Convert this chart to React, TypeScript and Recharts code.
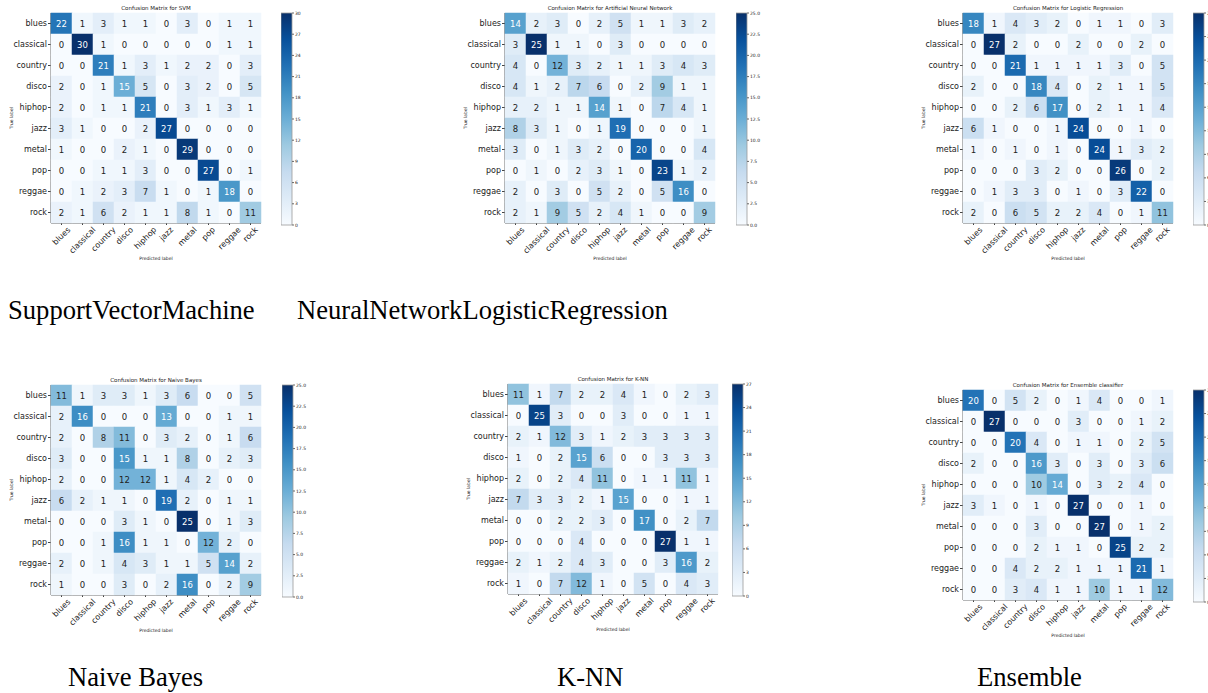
import React from 'react';
import { ScatterChart, Scatter, XAxis, YAxis, BarChart, Bar } from 'recharts';

const GENRES = ['blues', 'classical', 'country', 'disco', 'hiphop', 'jazz', 'metal', 'pop', 'reggae', 'rock'];

const SVM = [
  [22, 1, 3, 1, 1, 0, 3, 0, 1, 1],
  [0, 30, 1, 0, 0, 0, 0, 0, 1, 1],
  [0, 0, 21, 1, 3, 1, 2, 2, 0, 3],
  [2, 0, 1, 15, 5, 0, 3, 2, 0, 5],
  [2, 0, 1, 1, 21, 0, 3, 1, 3, 1],
  [3, 1, 0, 0, 2, 27, 0, 0, 0, 0],
  [1, 0, 0, 2, 1, 0, 29, 0, 0, 0],
  [0, 0, 1, 1, 3, 0, 0, 27, 0, 1],
  [0, 1, 2, 3, 7, 1, 0, 1, 18, 0],
  [2, 1, 6, 2, 1, 1, 8, 1, 0, 11],
];
const ANN = [
  [14, 2, 3, 0, 2, 5, 1, 1, 3, 2],
  [3, 25, 1, 1, 0, 3, 0, 0, 0, 0],
  [4, 0, 12, 3, 2, 1, 1, 3, 4, 3],
  [4, 1, 2, 7, 6, 0, 2, 9, 1, 1],
  [2, 2, 1, 1, 14, 1, 0, 7, 4, 1],
  [8, 3, 1, 0, 1, 19, 0, 0, 0, 1],
  [3, 0, 1, 3, 2, 0, 20, 0, 0, 4],
  [0, 1, 0, 2, 3, 1, 0, 23, 1, 2],
  [2, 0, 3, 0, 5, 2, 0, 5, 16, 0],
  [2, 1, 9, 5, 2, 4, 1, 0, 0, 9],
];
const LR = [
  [18, 1, 4, 3, 2, 0, 1, 1, 0, 3],
  [0, 27, 2, 0, 0, 2, 0, 0, 2, 0],
  [0, 0, 21, 1, 1, 1, 1, 3, 0, 5],
  [2, 0, 0, 18, 4, 0, 2, 1, 1, 5],
  [0, 0, 2, 6, 17, 0, 2, 1, 1, 4],
  [6, 1, 0, 0, 1, 24, 0, 0, 1, 0],
  [1, 0, 1, 0, 1, 0, 24, 1, 3, 2],
  [0, 0, 0, 3, 2, 0, 0, 26, 0, 2],
  [0, 1, 3, 3, 0, 1, 0, 3, 22, 0],
  [2, 0, 6, 5, 2, 2, 4, 0, 1, 11],
];
const NB = [
  [11, 1, 3, 3, 1, 3, 6, 0, 0, 5],
  [2, 16, 0, 0, 0, 13, 0, 0, 1, 1],
  [2, 0, 8, 11, 0, 3, 2, 0, 1, 6],
  [3, 0, 0, 15, 1, 1, 8, 0, 2, 3],
  [2, 0, 0, 12, 12, 1, 4, 2, 0, 0],
  [6, 2, 1, 1, 0, 19, 2, 0, 1, 1],
  [0, 0, 0, 3, 1, 0, 25, 0, 1, 3],
  [0, 0, 1, 16, 1, 1, 0, 12, 2, 0],
  [2, 0, 1, 4, 3, 1, 1, 5, 14, 2],
  [1, 0, 0, 3, 0, 2, 16, 0, 2, 9],
];
const KNN = [
  [11, 1, 7, 2, 2, 4, 1, 0, 2, 3],
  [0, 25, 3, 0, 0, 3, 0, 0, 1, 1],
  [2, 1, 12, 3, 1, 2, 3, 3, 3, 3],
  [1, 0, 2, 15, 6, 0, 0, 3, 3, 3],
  [2, 0, 2, 4, 11, 0, 1, 1, 11, 1],
  [7, 3, 3, 2, 1, 15, 0, 0, 1, 1],
  [0, 0, 2, 2, 3, 0, 17, 0, 2, 7],
  [0, 0, 0, 4, 0, 0, 0, 27, 1, 1],
  [2, 1, 2, 4, 3, 0, 0, 3, 16, 2],
  [1, 0, 7, 12, 1, 0, 5, 0, 4, 3],
];
const ENS = [
  [20, 0, 5, 2, 0, 1, 4, 0, 0, 1],
  [0, 27, 0, 0, 0, 3, 0, 0, 1, 2],
  [0, 0, 20, 4, 0, 1, 1, 0, 2, 5],
  [2, 0, 0, 16, 3, 0, 3, 0, 3, 6],
  [0, 0, 0, 10, 14, 0, 3, 2, 4, 0],
  [3, 1, 0, 1, 0, 27, 0, 0, 1, 0],
  [0, 0, 0, 3, 0, 0, 27, 0, 1, 2],
  [0, 0, 0, 2, 1, 1, 0, 25, 2, 2],
  [0, 0, 4, 2, 2, 1, 1, 1, 21, 1],
  [0, 0, 3, 4, 1, 1, 10, 1, 1, 12],
];

const TITLES = [
  'Confusion Matrix for SVM',
  'Confusion Matrix for Artificial Neural Network',
  'Confusion Matrix for Logistic Regression',
  'Confusion Matrix for Naive Bayes',
  'Confusion Matrix for K-NN',
  'Confusion Matrix for Ensemble classifier',
];
const CAPTIONS = ['SupportVectorMachine', 'NeuralNetworkLogisticRegression', 'Naive Bayes', 'K-NN', 'Ensemble'];
const VMAX = [30, 25, 27, 25, 27, 27];
const TICKS_3_30 = [0, 3, 6, 9, 12, 15, 18, 21, 24, 27, 30];
const TICKS_25 = [0, 2.5, 5, 7.5, 10, 12.5, 15, 17.5, 20, 22.5, 25];
const TICKS_3_27 = [0, 3, 6, 9, 12, 15, 18, 21, 24, 27];
const CB_TICKS = [TICKS_3_30, TICKS_25, TICKS_3_27, TICKS_25, TICKS_3_27, TICKS_3_27];
const MATRICES = [SVM, ANN, LR, NB, KNN, ENS];

// layout (styles only)
const LAYOUT = [
  { mx: 51, my: 13, cbx: 281 },
  { mx: 505, my: 13, cbx: 736 },
  { mx: 963, my: 13, cbx: 1193 },
  { mx: 51, my: 385, cbx: 282 },
  { mx: 508, my: 384, cbx: 732 },
  { mx: 963, my: 390, cbx: 1193 },
];
const CAPTION_POS = [
  { x: 8, y: 319 },
  { x: 297, y: 319 },
  { x: 68, y: 686 },
  { x: 557, y: 686 },
  { x: 977, y: 686 },
];
const PLOT = 210;
const CELL = PLOT / 10;
const YW = 62;
const TOP = 2;
const XH = 48;
const CB_W = 11;
const FONT = 'DejaVu Sans';

const BLUES = ['#f7fbff', '#deebf7', '#c6dbef', '#9ecae1', '#6baed6', '#4292c6', '#2171b5', '#08519c', '#08306b'];
const hex = (h: string) => [1, 3, 5].map((i) => parseInt(h.slice(i, i + 2), 16));
function blues(t: number) {
  const c = Math.max(0, Math.min(1, t)) * 8;
  const i = Math.min(7, Math.floor(c));
  const f = c - i;
  const a = hex(BLUES[i]);
  const b = hex(BLUES[i + 1]);
  const m = a.map((v, k) => Math.round(v + (b[k] - v) * f));
  return `rgb(${m[0]},${m[1]},${m[2]})`;
}

let ctx: CanvasRenderingContext2D | null = null;
function textWidth(s: string, font: string) {
  if (!ctx) ctx = document.createElement('canvas').getContext('2d');
  if (!ctx) return s.length * 5;
  ctx.font = font;
  return ctx.measureText(s).width;
}

const RotTick = (props: any) => {
  const { x, y, payload } = props;
  const label = GENRES[payload.value];
  const w = textWidth(label, `8px "${FONT}"`);
  const h = (w + 7) / Math.SQRT2;
  return (
    <text
      transform={`translate(${x},${y + h / 2}) rotate(-45)`}
      textAnchor="middle"
      dominantBaseline="central"
      fontSize={8}
      fontFamily={FONT}
      fill="#222"
    >
      {label}
    </text>
  );
};

const makeCell = (vmax: number) => (props: any) => {
  const { cx, cy, payload } = props;
  const v = payload.v;
  return (
    <g>
      <rect x={cx - CELL / 2 - 0.25} y={cy - CELL / 2 - 0.25} width={CELL + 0.5} height={CELL + 0.5} fill={blues(v / vmax)} />
      <text
        x={cx}
        y={cy}
        textAnchor="middle"
        dominantBaseline="central"
        fontSize={8.5}
        fontFamily={FONT}
        fill={v >= vmax / 2 ? '#ffffff' : '#222'}
      >
        {v}
      </text>
    </g>
  );
};

const IDX = [0, 1, 2, 3, 4, 5, 6, 7, 8, 9];

function Matrix({ k }: { k: number }) {
  const m = MATRICES[k];
  const vmax = VMAX[k];
  const L = LAYOUT[k];
  const data = m.flatMap((row, i) => row.map((v, j) => ({ x: j, y: i, v })));
  const W = YW + PLOT + 1;
  const H = TOP + PLOT + XH;
  return (
    <div style={{ position: 'absolute', left: L.mx - YW, top: L.my - TOP, width: W, height: H }}>
      <ScatterChart width={W} height={H} margin={{ top: TOP, right: 1, bottom: 0, left: 0 }}>
        <XAxis
          type="number"
          dataKey="x"
          domain={[-0.5, 9.5]}
          ticks={IDX}
          interval={0}
          height={XH}
          tickSize={2}
          tickMargin={1}
          axisLine={{ stroke: '#444' }}
          tickLine={{ stroke: '#444' }}
          tick={<RotTick />}
        />
        <YAxis
          type="number"
          dataKey="y"
          domain={[-0.5, 9.5]}
          reversed
          ticks={IDX}
          interval={0}
          width={YW}
          tickSize={3}
          tickMargin={1}
          axisLine={{ stroke: '#444' }}
          tickLine={{ stroke: '#444' }}
          tickFormatter={(i: number) => GENRES[i]}
          tick={{ fontSize: 8, fill: '#222', fontFamily: FONT }}
        />
        <XAxis
          xAxisId="top"
          orientation="top"
          type="number"
          domain={[-0.5, 9.5]}
          height={0}
          tick={false}
          tickLine={false}
          axisLine={{ stroke: '#444' }}
        />
        <YAxis
          yAxisId="right"
          orientation="right"
          type="number"
          domain={[-0.5, 9.5]}
          width={0}
          tick={false}
          tickLine={false}
          axisLine={{ stroke: '#444' }}
        />
        <Scatter data={data} shape={makeCell(vmax)} isAnimationActive={false} />
      </ScatterChart>
    </div>
  );
}

function ColorBar({ k }: { k: number }) {
  const vmax = VMAX[k];
  const ticks = CB_TICKS[k];
  const L = LAYOUT[k];
  const dec = ticks.some((t) => !Number.isInteger(t));
  const W = CB_W + 26;
  const H = PLOT + 2 + 6;
  return (
    <div style={{ position: 'absolute', left: L.cbx, top: L.my - 3, width: W, height: H }}>
      <BarChart
        width={W}
        height={H}
        data={[{ k: 'c', v: vmax }]}
        margin={{ top: 3, right: 0, bottom: 3, left: 0 }}
        barCategoryGap={0}
      >
        <XAxis dataKey="k" hide />
        <YAxis
          orientation="right"
          type="number"
          domain={[0, vmax]}
          ticks={ticks}
          interval={0}
          width={26}
          tickSize={2}
          tickMargin={1}
          axisLine={false}
          tickLine={{ stroke: '#666' }}
          tickFormatter={(t: number) => (dec ? t.toFixed(1) : String(t))}
          tick={{ fontSize: 4.5, fill: '#222', fontFamily: FONT }}
        />
        <Bar dataKey="v" fill="url(#bluesGrad)" stroke="#999" strokeWidth={0.8} isAnimationActive={false} />
      </BarChart>
    </div>
  );
}

export default function App() {
  return (
    <div
      style={{
        position: 'absolute',
        left: 0,
        top: 0,
        width: 1208,
        height: 693,
        overflow: 'hidden',
        background: '#fff',
      }}
    >
      <svg width={0} height={0} style={{ position: 'absolute' }}>
        <defs>
          <linearGradient id="bluesGrad" x1="0" y1="0" x2="0" y2="1">
            {BLUES.map((c, i) => (
              <stop key={i} offset={`${(i / 8) * 100}%`} stopColor={BLUES[8 - i]} />
            ))}
          </linearGradient>
        </defs>
      </svg>
      {LAYOUT.map((_, k) => (
        <React.Fragment key={k}>
          <Matrix k={k} />
          <ColorBar k={k} />
        </React.Fragment>
      ))}
      <svg width={1208} height={693} style={{ position: 'absolute', left: 0, top: 0, pointerEvents: 'none' }}>
        {LAYOUT.map((L, k) => (
          <g key={k} fontFamily={FONT} fill="#222">
            <text x={L.mx + PLOT / 2} y={L.my - 3} textAnchor="middle" fontSize={5.5}>
              {TITLES[k]}
            </text>
            <text
              transform={`translate(${L.mx - 40},${L.my + PLOT / 2}) rotate(-90)`}
              textAnchor="middle"
              dominantBaseline="central"
              fontSize={4.5}
            >
              True label
            </text>
            <text x={L.mx + PLOT / 2} y={L.my + PLOT + 37} textAnchor="middle" fontSize={4.5}>
              Predicted label
            </text>
          </g>
        ))}
        {CAPTIONS.map((c, i) => (
          <text key={i} x={CAPTION_POS[i].x} y={CAPTION_POS[i].y} fontFamily="Liberation Serif" fontSize={26.6} fill="#000">
            {c}
          </text>
        ))}
      </svg>
    </div>
  );
}
